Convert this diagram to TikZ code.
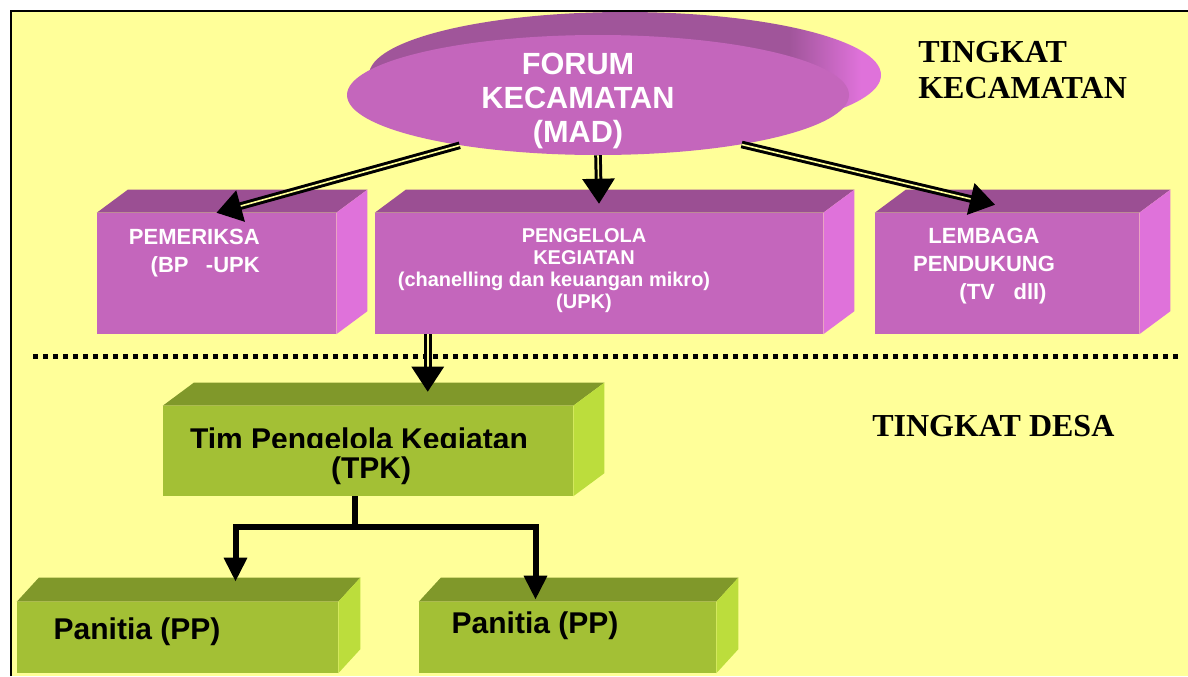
\documentclass[tikz,border=0pt]{standalone}
\usepackage{fontspec}
\setmainfont{Liberation Serif}
\newfontfamily\arialfont{Liberation Sans}
\usetikzlibrary{arrows.meta,fit,shapes.geometric}

\definecolor{bgyellow}{HTML}{FFFF99}
\definecolor{frontpurp}{HTML}{C466BC}
\definecolor{toppurp}{HTML}{9B4F93}
\definecolor{sidepurp}{HTML}{DF72DA}
\definecolor{topforum}{HTML}{A0559A}
\definecolor{frontgreen}{HTML}{A3C035}
\definecolor{topgreen}{HTML}{80982A}
\definecolor{sidegreen}{HTML}{BCDD3C}
\pgfdeclarehorizontalshading{forumrim}{100bp}{color(0bp)=(topforum); color(25bp)=(topforum); color(66bp)=(topforum); color(73bp)=(sidepurp); color(100bp)=(sidepurp)}

\tikzset{
  purpbox/.style={rectangle, inner sep=0pt, fill=frontpurp},
  greenbox/.style={rectangle, inner sep=0pt, fill=frontgreen},
  forumdisc/.style={ellipse, inner sep=0pt, fill=frontpurp, minimum width=376.5pt, minimum height=90pt},
  whitetxt/.style={text=white, inner sep=0pt, font=\arialfont\bfseries\fontsize{16.5pt}{21pt}\selectfont},
  blacktxt/.style={inner sep=0pt, font=\arialfont\bfseries\fontsize{22.5pt}{27pt}\selectfont},
  leveltxt/.style={inner sep=0pt, align=left, font=\bfseries\fontsize{24pt}{27pt}\selectfont},
  dblarrow/.style={line width=2.25pt, double=bgyellow, double distance=1.2pt, -{Triangle[length=18.75pt,width=24pt]}},
  treeline/.style={line width=4.5pt},
  treearrow/.style={line width=4.5pt, -{Triangle[length=18pt,width=16.5pt]}},
  sepline/.style={line width=3.75pt, dash pattern=on 3.75pt off 3.75pt}
}

\begin{document}
\begin{tikzpicture}[x=0.75pt,y=-0.75pt]
\useasboundingbox (0,0) rectangle (1188,676);
\fill[bgyellow] (11,11) rectangle (1188,676);
\draw[line width=1.8pt] (11,676) -- (11,11) -- (1188,11);

\shade[shading=forumrim] (625,75) ellipse [x radius=192pt, y radius=47.25pt];
\node[forumdisc] (forum) at (598,95) {};
\node[whitetxt, align=center, anchor=north, font=\arialfont\bfseries\fontsize{23pt}{25.5pt}\selectfont] (forumtxt) at (578,53) {FORUM\\KECAMATAN\\(MAD)};

\node[purpbox, fit={(97,213) (336,334)}] (pem) {};
\node[purpbox, fit={(375,213) (823,334)}] (pgl) {};
\node[purpbox, fit={(875,213) (1139,334)}] (lmb) {};
\node[greenbox, fit={(163,406) (573,496)}] (tpk) {};
\node[greenbox, fit={(17,602) (338,673)}] (pp1) {};
\node[greenbox, fit={(419,602) (716,673)}] (pp2) {};

\foreach \b/\dx/\dy/\c in {pem/31/23/purp, pgl/31/23/purp, lmb/31/23/purp, tpk/31/23/green, pp1/22/24/green, pp2/22/24/green}{
  \fill[top\c] (\b.north west) -- ++(\dx,-\dy) -- ([shift={(\dx,-\dy)}]\b.north east) -- (\b.north east) -- cycle;
  \fill[side\c] (\b.north east) -- ++(\dx,-\dy) -- ([shift={(\dx,-\dy)}]\b.south east) -- (\b.south east) -- cycle;
}

\node[whitetxt, align=right, anchor=north east] (pemtxt) at (260,229) {PEMERIKSA\\(BP\hspace{13pt}-UPK};
\node[whitetxt, align=center, anchor=north, font=\arialfont\bfseries\fontsize{15pt}{16.5pt}\selectfont] (pgltxt) at (584,228)
  {PENGELOLA\\KEGIATAN\\(chanelling dan keuangan mikro)\hbox to 45pt{}\\(UPK)};
\node[whitetxt, align=center, anchor=north] (lmbtxt) at (984,228) {LEMBAGA\\PENDUKUNG\\\hspace*{28.5pt}(TV\hspace{14pt}dll)};

\begin{scope}
  \clip (163,406) rectangle (573,447);
  \node[blacktxt, anchor=base] (tpktxt) at (359,449) {Tim Pengelola Kegiatan};
\end{scope}
\node[blacktxt, anchor=base] (tpkabbr) at (371,478) {(TPK)};
\node[blacktxt, anchor=base] (pp1txt) at (137,639) {Panitia (PP)};
\node[blacktxt, anchor=base] (pp2txt) at (535,633) {Panitia (PP)};

\node[leveltxt, anchor=north west] (kec) at (918,41) {TINGKAT\\KECAMATAN};
\node[leveltxt, anchor=base west] (desa) at (872,436) {TINGKAT DESA};

\draw[sepline] (33,356) -- (1183,356);

\draw[dblarrow] (forum.200) -- (pem.north);
\draw[dblarrow] (forum.south) -- ([yshift=6.75pt]pgl.north);
\draw[dblarrow] (forum.341) -- ([shift={(-12,-8)}]lmb.north);
\draw[dblarrow] ([shift={(53,0)}]pgl.south west) -- ([shift={(265,-14)}]tpk.north west);

\coordinate (fork) at (355,527);
\draw[treeline] ([shift={(-13,0)}]tpk.south) -- (fork);
\draw[treearrow] (fork) -| ([shift={(58,-20)}]pp1.north);
\draw[treearrow] (fork) -| ([shift={(-32,-2)}]pp2.north);
\end{tikzpicture}
\end{document}
